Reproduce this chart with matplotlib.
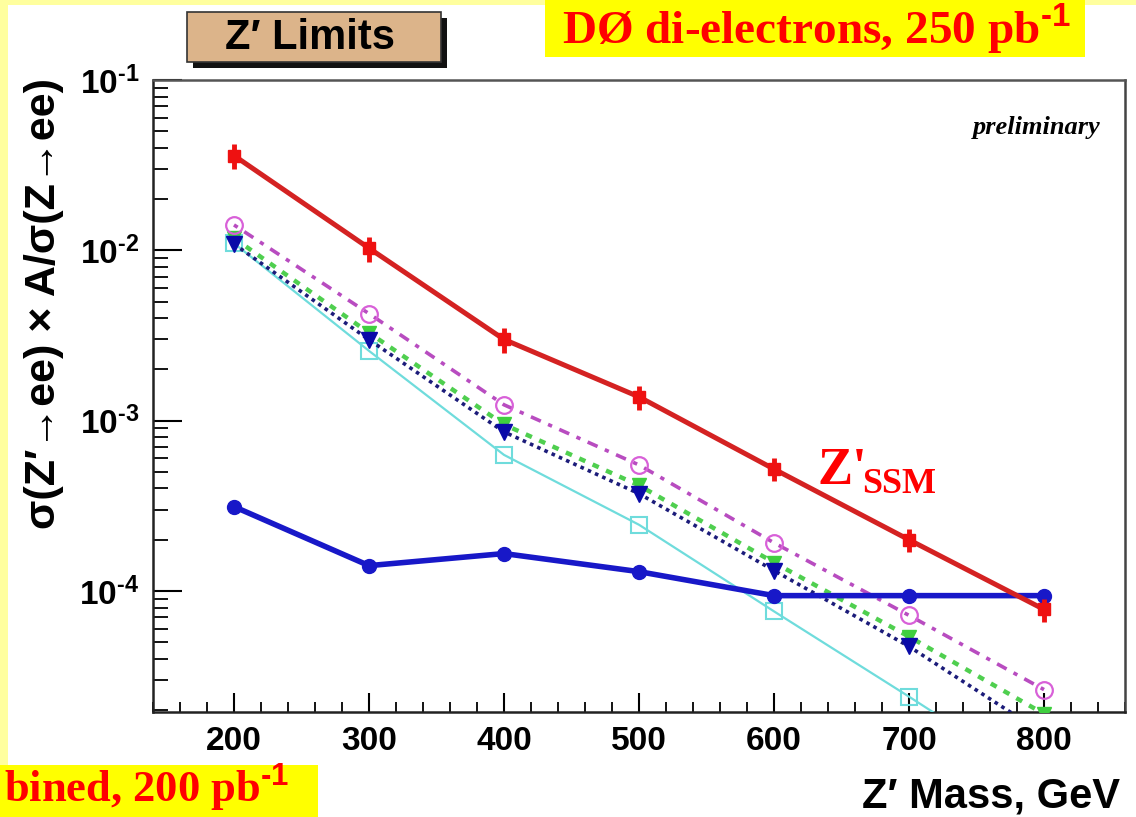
import matplotlib
matplotlib.use("Agg")
import matplotlib.pyplot as plt
from matplotlib.patches import Rectangle
from matplotlib.ticker import FixedLocator, FixedFormatter, LogLocator, NullFormatter, MultipleLocator

# ---------------- data ----------------
mass = [200, 300, 400, 500, 600, 700, 800]

ssm_red = [3.6e-2, 1.03e-2, 3.0e-3, 1.38e-3, 5.2e-4, 2.0e-4, 7.8e-5]
ssm_red_err = [0.6e-2, 0.17e-2, 0.5e-3, 0.22e-3, 0.8e-4, 0.3e-4, 1.2e-5]
limit_blue = [3.13e-4, 1.41e-4, 1.66e-4, 1.30e-4, 9.4e-5, 9.4e-5, 9.4e-5]
magenta = [1.41e-2, 4.25e-3, 1.24e-3, 5.5e-4, 1.92e-4, 7.2e-5, 2.64e-5]
green = [1.18e-2, 3.28e-3, 9.5e-4, 4.17e-4, 1.47e-4, 5.4e-5, 1.9e-5]
navy = [1.09e-2, 2.99e-3, 8.6e-4, 3.73e-4, 1.32e-4, 4.73e-5, 1.45e-5]
cyan = [1.10e-2, 2.57e-3, 6.3e-4, 2.45e-4, 7.6e-5, 2.4e-5, 7.4e-6]

xtick_vals = [200, 300, 400, 500, 600, 700, 800]
xtick_labels = ["200", "300", "400", "500", "600", "700", "800"]
ytick_vals = [1e-4, 1e-3, 1e-2, 1e-1]
ytick_labels = [r"$\mathbf{10^{\text{-}4}}$", r"$\mathbf{10^{\text{-}3}}$",
                r"$\mathbf{10^{\text{-}2}}$", r"$\mathbf{10^{\text{-}1}}$"]

# ---------------- style ----------------
plt.rcParams["font.family"] = ["Liberation Sans", "DejaVu Sans"]
plt.rcParams["mathtext.fontset"] = "custom"
plt.rcParams["mathtext.bf"] = "Liberation Sans:bold"
plt.rcParams["mathtext.rm"] = "Liberation Sans:bold"

W, H = 1136, 817
fig = plt.figure(figsize=(W / 100, H / 100), dpi=100)
fig.patch.set_facecolor("white")

def fx(px):
    return px / W

def fy(py):
    return 1 - py / H

# pale yellow border strips
fig.patches.append(Rectangle((0, 0), fx(8), 1, transform=fig.transFigure,
                             facecolor="#ffff9e", edgecolor="none", zorder=0))
fig.patches.append(Rectangle((0, fy(5)), 1, fy(0) - fy(5), transform=fig.transFigure,
                             facecolor="#ffff9e", edgecolor="none", zorder=0))

ax = fig.add_axes([fx(153), fy(712), fx(1125) - fx(153), fy(80) - fy(712)])
ax.set_yscale("log")
ax.set_xlim(140, 860)
ax.set_ylim(1.95e-5, 0.1)

# series
ax.plot(mass, cyan, color="#6fdcdc", lw=1.6, marker="s", ms=11, mfc="none",
        mec="#6fdcdc", mew=1.5, zorder=3)
ax.plot(mass, navy, color="#1c1c7a", lw=2.6, ls=(0, (1, 1.2)), marker="v", ms=11,
        mfc="#0a0aa8", mec="#0a0aa8", zorder=4)
ax.plot(mass, green, color="#4fcf4f", lw=3.2, ls=(0, (1.5, 1.8)), marker="v", ms=10,
        mfc="#3fcf3f", mec="#3fcf3f", zorder=3.5)
ax.plot(mass, magenta, color="#b84cc0", lw=2.6, ls=(0, (1.2, 2.2, 3, 2.2)), marker="o",
        ms=12, mfc="none", mec="#d860d8", mew=1.6, zorder=5)
ax.plot(mass, limit_blue, color="#1818c8", lw=4.0, marker="o", ms=10,
        mfc="#1818c8", mec="#1818c8", zorder=6)
ax.errorbar(mass, ssm_red, yerr=ssm_red_err, color="#d42222", lw=3.6, marker="s",
            ms=9, mfc="#ee1111", mec="#ee1111", elinewidth=3.5, capsize=0,
            ecolor="#ee1111", zorder=7)

# axes styling
for s in ax.spines.values():
    s.set_linewidth(1.8)
    s.set_color("#222222")
ax.spines["top"].set_color("#555555")
ax.spines["right"].set_color("#444444")

ax.xaxis.set_major_locator(FixedLocator(xtick_vals))
ax.xaxis.set_major_formatter(FixedFormatter(xtick_labels))
ax.xaxis.set_minor_locator(MultipleLocator(20))
ax.yaxis.set_major_locator(FixedLocator(ytick_vals))
ax.yaxis.set_major_formatter(FixedFormatter(ytick_labels))
ax.yaxis.set_minor_locator(LogLocator(base=10, subs=[2, 3, 4, 5, 6, 7, 8, 9], numticks=20))
ax.yaxis.set_minor_formatter(NullFormatter())

ax.tick_params(axis="x", which="major", direction="in", length=14, width=1.5,
               labelsize=24, pad=10, top=False)
ax.tick_params(axis="x", which="minor", direction="in", length=7, width=1.3, top=False)
ax.tick_params(axis="y", which="major", direction="in", length=21, width=1.5,
               labelsize=24, pad=10, right=False)
ax.tick_params(axis="y", which="minor", direction="in", length=10.5, width=1.3, right=False)
for lab in ax.get_xticklabels():
    lab.set_fontweight("bold")

# texts inside axes
ax.text(0.975, 0.925, "preliminary", transform=ax.transAxes, ha="right", va="center",
        fontsize=19, fontstyle="italic", fontweight="bold", family="Liberation Serif")
fig.text(fx(818), fy(484), "Z'", color="#ff0000", fontsize=38, fontweight="bold",
         family="Liberation Serif", ha="left", va="baseline")
fig.text(fx(862), fy(493), "SSM", color="#ff0000", fontsize=26, fontweight="bold",
         family="Liberation Serif", ha="left", va="baseline")

# axis titles (ROOT-style, aligned at the axis ends)
fig.text(fx(1120), fy(808), "Z\u2032 Mass, GeV", ha="right", va="baseline",
         fontsize=30, fontweight="bold")
fig.text(fx(44), fy(78), "\u03c3(Z\u2032\u2192ee) \u00d7 A/\u03c3(Z\u2192ee)", rotation=90,
         ha="center", va="top", fontsize=31, fontweight="bold")

# title box with shadow
fig.patches.append(Rectangle((fx(193), fy(68)), fx(447) - fx(193), fy(18) - fy(68),
                             transform=fig.transFigure, facecolor="#111111",
                             edgecolor="none", zorder=1))
fig.patches.append(Rectangle((fx(187), fy(62)), fx(441) - fx(187), fy(12) - fy(62),
                             transform=fig.transFigure, facecolor="#dcb48a",
                             edgecolor="#333333", lw=1.2, zorder=2))
fig.text(fx(310), fy(38), "Z\u2032 Limits", ha="center", va="center", fontsize=30,
         fontweight="bold", zorder=3)

# yellow banners
fig.patches.append(Rectangle((fx(545), fy(57)), fx(1085) - fx(545), fy(0) - fy(57),
                             transform=fig.transFigure, facecolor="#ffff00",
                             edgecolor="none", zorder=1))
fig.text(fx(816), fy(44), r"DØ di-electrons, 250 pb$^{\text{-}1}$", ha="center",
         va="baseline", fontsize=34, fontweight="bold", color="#ff0000",
         family="Liberation Serif", zorder=3)

fig.patches.append(Rectangle((0, 0), fx(318), fy(765), transform=fig.transFigure,
                             facecolor="#ffff00", edgecolor="none", zorder=1))
fig.text(fx(4), fy(803), r"bined, 200 pb$^{\text{-}1}$", ha="left", va="baseline",
         fontsize=32, fontweight="bold", color="#ff0000", family="Liberation Serif",
         zorder=3)

fig.savefig("out.png", dpi=100)
